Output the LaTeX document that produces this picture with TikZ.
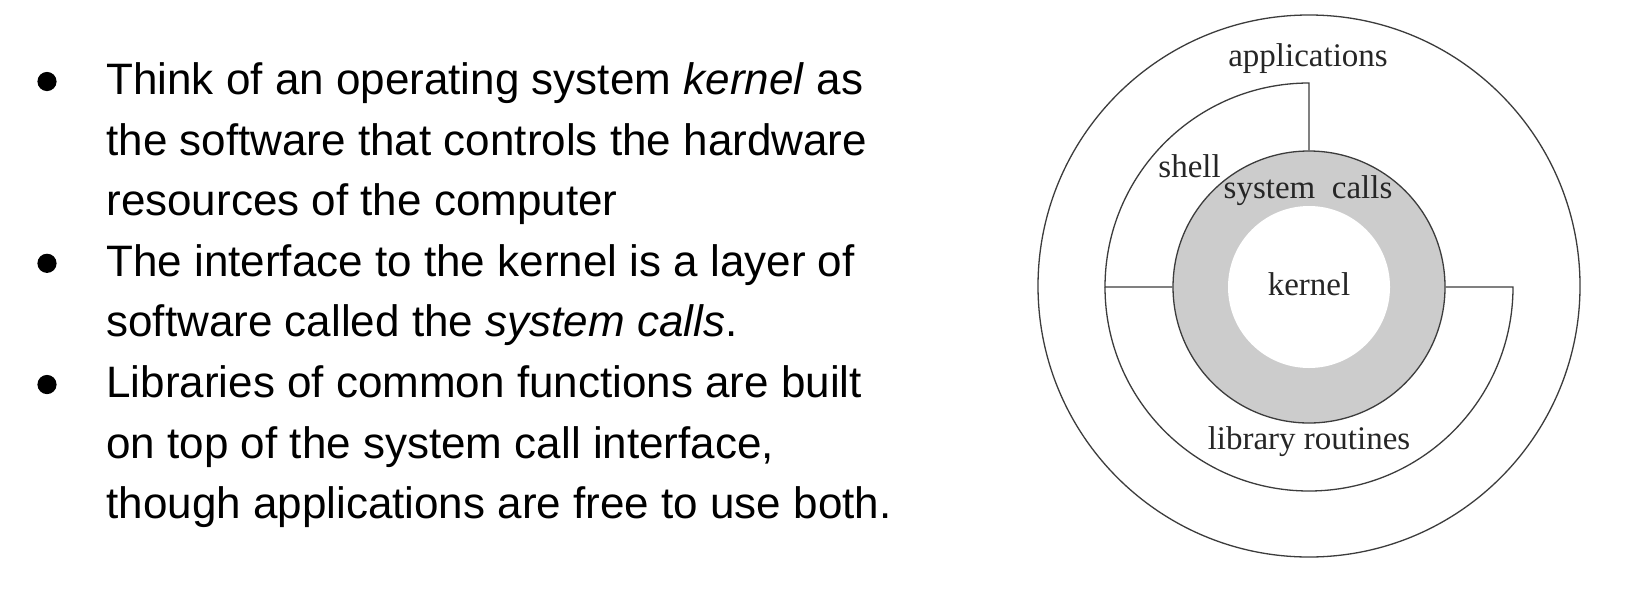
\documentclass[tikz,border=0pt]{standalone}
\usepackage{fontspec}
\newfontfamily\arialf{Liberation Sans}
\newfontfamily\seriff{Liberation Serif}
\definecolor{ringgray}{RGB}{204,204,204}
\definecolor{linegray}{RGB}{60,60,60}
\begin{document}
\begin{tikzpicture}[x=0.5pt,y=0.5pt,
  bodytext/.style={anchor=base west,inner sep=0pt,font=\arialf\fontsize{22}{26}\selectfont},
  bulletdot/.style={circle,fill=black,inner sep=0pt,minimum size=9.6pt},
  lbl/.style={anchor=base,inner sep=0pt,text=black!85,font=\seriff\fontsize{16.5}{19}\selectfont},
  ring/.style={draw=linegray,line width=0.65pt}]
\path[use as bounding box,fill=white] (0,0) rectangle (1636,602);

% left bullet text
\node[bulletdot] (b1) at (47,520.5) {};
\node[bodytext] (t1) at (106,507.5) {Think of an operating system \textit{kernel} as};
\node[bodytext] (t2) at (106,446.9) {the software that controls the hardware};
\node[bodytext] (t3) at (106,386.3) {resources of the computer};
\node[bulletdot] (b2) at (47,338.7) {};
\node[bodytext] (t4) at (106,325.7) {The interface to the kernel is a layer of};
\node[bodytext] (t5) at (106,265.1) {software called the \textit{system calls}.};
\node[bulletdot] (b3) at (47,217.5) {};
\node[bodytext] (t6) at (106,204.5) {Libraries of common functions are built};
\node[bodytext] (t7) at (106,143.9) {on top of the system call interface,};
\node[bodytext] (t8) at (106,83.3) {though applications are free to use both.};

% diagram
\node[ring,circle,inner sep=0pt,minimum size=271pt] (outer) at (1309,316) {};
\node[ring,circle,fill=ringgray,inner sep=0pt,minimum size=136pt] (sys) at (1309,315) {};
\node[circle,fill=white,inner sep=0pt,minimum size=81pt] (ker) at (1309,315) {};
\coordinate (shtop) at (1309,519);
\coordinate (shleft) at (1105,315);
\coordinate (libright) at (1513,315);
\draw[ring] (sys.north) -- (shtop) arc[start angle=90,end angle=180,radius=102pt] -- (sys.west);
\draw[ring] (shleft) arc[start angle=180,end angle=360,radius=102pt] -- (sys.east);

\node[lbl] (lapp) at (1308,536) {applications};
\node[lbl,anchor=base west] (lsh) at (1158,425) {shell};
\node[lbl] (lsys) at (1308,404) {system\ \ calls};
\node[lbl] (lker) at (1309,307) {kernel};
\node[lbl] (llib) at (1309,153) {library routines};
\end{tikzpicture}
\end{document}
